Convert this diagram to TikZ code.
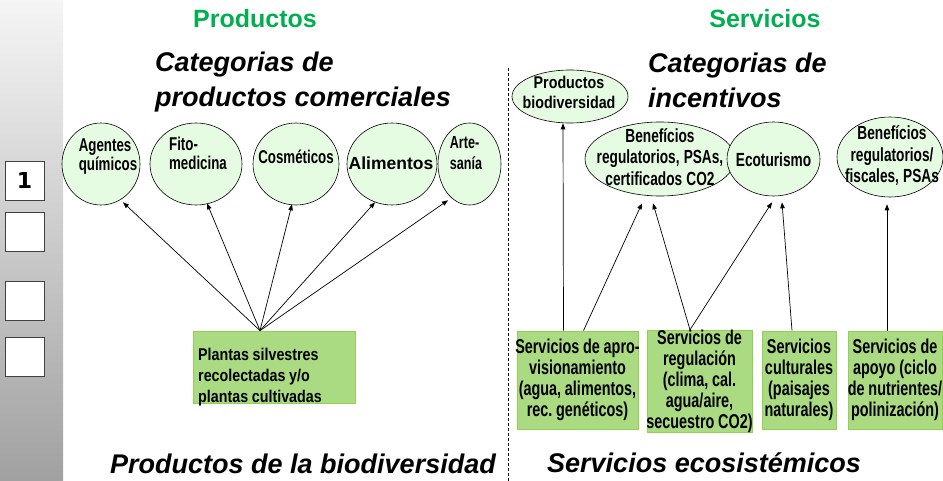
\documentclass[tikz,border=0pt]{standalone}
\usepackage{fontspec}
\setmainfont{Liberation Sans}
\newfontfamily\narrowA{Liberation Sans}[FakeStretch=0.84, WordSpace=0.84]
\newfontfamily\narrowB{Liberation Sans}[FakeStretch=0.72, WordSpace=0.72]
\newfontfamily\numfont{DejaVu Sans}
\usetikzlibrary{arrows.meta,shapes.geometric,positioning}
\frenchspacing

\definecolor{titlegreen}{RGB}{0,176,80}
\definecolor{ellfill}{RGB}{230,252,226}
\definecolor{boxfill}{RGB}{170,218,130}
\definecolor{boxline}{RGB}{146,208,80}

% one centred line that may run over the box edge
\newcommand\bline[1]{\makebox[\hsize]{\spaceskip=3.8pt\relax#1}}

\tikzset{
  catell/.style={ellipse, draw=black, fill=ellfill, line width=0.6pt, inner sep=0pt},
  srvbox/.style={rectangle, draw=boxline, fill=boxfill, line width=0.8pt, inner sep=0pt,
    align=center, font=\fontsize{20}{21}\narrowB\bfseries},
  arr/.style={-{Triangle[length=6pt,width=4.5pt]}, line width=0.7pt},
  ltext/.style={font=\fontsize{18.5}{19.5}\narrowB\bfseries, align=left, inner sep=0pt,
    execute at begin node={\spaceskip=0.22em\relax}},
  rtext/.style={font=\fontsize{19}{21.5}\narrowB\bfseries, align=center, inner sep=0pt,
    execute at begin node={\spaceskip=0.22em\relax}},
  cathead/.style={font=\fontsize{27}{35}\selectfont\bfseries\itshape, align=left, inner sep=0pt},
  grtitle/.style={font=\fontsize{25}{30}\selectfont\bfseries, text=titlegreen, inner sep=0pt},
  numbox/.style={draw=black!75, fill=white, line width=0.7pt, minimum size=39pt, inner sep=0pt}
}

\begin{document}
\begin{tikzpicture}[x=1pt,y=-1pt]
\useasboundingbox (0,0) rectangle (943,481);

% side bar
\shade[top color=white!96!black, bottom color=black!37] (0,0) rectangle (63,481);
\node[numbox, font=\fontsize{22}{22}\numfont\bfseries] (nb1) at (24.5,180.5) {1};
\foreach \i/\y in {2/231.5, 3/301, 4/357}
  \node[numbox] (nb\i) at (24.5,\y) {};

% titles
\node[grtitle, anchor=base] (prodtitle) at (255,28) {Productos};
\node[grtitle, anchor=base] (servtitle) at (765,28) {Servicios};
\node[cathead, anchor=north west] (prodcat) at (155,52) {Categorias de\\productos comerciales};
\node[cathead, anchor=north west] (servcat) at (648,53) {Categorias de\\incentivos};
\node[cathead, anchor=base west] (prodfoot) at (110,473) {Productos de la biodiversidad};
\node[cathead, anchor=base west] (servfoot) at (547,472) {Servicios ecosistémicos};

% divider
\draw[line width=0.5pt, dash pattern=on 3pt off 2pt] (508,68) -- (508,481);

% products
\foreach \nm/\cx/\rx in {agentes/101/39, fito/196/46, cosm/296/43, alim/392/45, arte/469.5/31.5}
  \node[catell, minimum width=2*\rx, minimum height=82] (\nm) at (\cx,164) {};
\node[ltext] (agentestxt) at (108,156.5) {Agentes\\químicos};
\node[ltext] (fitotxt) at (198,153.5) {Fito-\\medicina};
\node[ltext] (cosmtxt) at (296,157) {Cosméticos};
\node[ltext, font=\fontsize{17.5}{20}\selectfont\bfseries] (alimtxt) at (391,163) {Alimentos};
\node[ltext, font=\fontsize{17.5}{21}\narrowB\bfseries] (artetxt) at (466,153.5) {Arte-\\sanía};

\node[srvbox, minimum width=162, minimum height=72] (plantas) at (274,367) {};
\node[ltext, font=\fontsize{17}{21}\narrowA\bfseries, anchor=west] (plantastxt) at (198,377)
  {Plantas silvestres\\recolectadas y/o\\plantas cultivadas};

\coordinate (plsrc) at ([xshift=-14pt]plantas.north);
\foreach \nm/\dx/\dy in {agentes/22/3, fito/11/2, cosm/-4/1, alim/-17/3, arte/-21.5/5}
  \draw[arr] (plsrc) -- ([xshift=\dx pt, yshift=\dy pt]\nm.south);

% services
\node[catell, minimum width=116, minimum height=53] (prodbio) at (570,96.5) {};
\node[ltext, font=\fontsize{17}{20}\narrowA\bfseries, align=center] (prodbiotxt) at (569,92)
  {Productos\\biodiversidad};
\node[catell, minimum width=150, minimum height=74] (benef) at (660,159) {};
\node[catell, minimum width=93, minimum height=74] (ecot) at (773.5,159) {};
\node[catell, minimum width=106, minimum height=80] (fiscal) at (890,157) {};
\node[rtext] (beneftxt) at (660,157) {Benefícios\\regulatorios, PSAs,\\certificados CO2};
\node[rtext] (ecottxt) at (773.5,160) {Ecoturismo};
\node[rtext] (fiscaltxt) at (892,156) {Benefícios\\regulatorios/\\fiscales, PSAs};

\node[srvbox, text width=121, minimum height=98] (aprov) at (577.5,380)
  {\bline{Servicios de apro-}\\\bline{visionamiento}\\\bline{(agua, alimentos,}\\\bline{rec. genéticos)}};
\node[srvbox, text width=105, minimum height=101] (regul) at (699.5,381.5)
  {\bline{Servicios de}\\\bline{regulación}\\\bline{(clima, cal.}\\\bline{agua/aire,}\\\bline{secuestro CO2)}};
\node[srvbox, text width=74, minimum height=98] (cultur) at (799,380)
  {\bline{Servicios}\\\bline{culturales}\\\bline{(paisajes}\\\bline{naturales)}};
\node[srvbox, text width=94, minimum height=98] (apoyo) at (895,380)
  {\bline{Servicios de}\\\bline{apoyo (ciclo}\\\bline{de nutrientes/}\\\bline{polinización)}};

\coordinate (a1) at ([xshift=-14pt]aprov.north);
\coordinate (a2) at ([xshift=6pt]aprov.north);
\coordinate (r1) at ([xshift=-9.5pt]regul.north);
\coordinate (c1) at ([xshift=-7pt]cultur.north);
\coordinate (p1) at ([xshift=-8pt]apoyo.north);
\draw[arr] (a1) -- ([xshift=-7pt]prodbio.south);
\draw[arr] (a2) -- ([xshift=-18pt, yshift=-7pt]benef.south);
\draw[arr] (r1) -- ([xshift=-7pt, yshift=-7pt]benef.south);
\draw[arr] (r1) -- ([xshift=-1.5pt, yshift=-6pt]ecot.south);
\draw[arr] (c1) -- ([xshift=8.5pt, yshift=-6pt]ecot.south);
\draw[arr] (p1) -- ([xshift=-3pt, yshift=-7pt]fiscal.south);
\end{tikzpicture}
\end{document}
